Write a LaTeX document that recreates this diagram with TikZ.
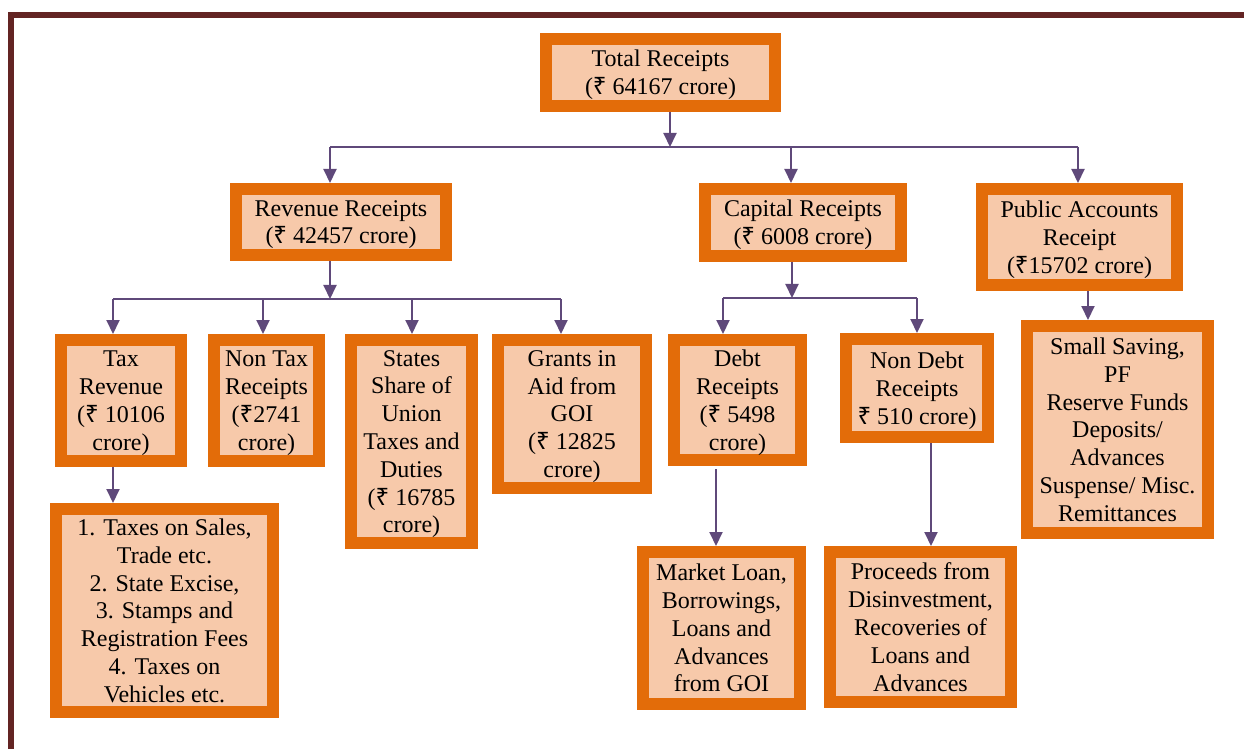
\documentclass[tikz,border=0pt]{standalone}
\usepackage{fontspec}
\setmainfont{Liberation Serif}
\newfontfamily\rupeefont{Noto Sans}
\newcommand{\Rs}{{\rupeefont ₹}}
\usetikzlibrary{arrows.meta}
\definecolor{boxorange}{HTML}{E36C09}
\definecolor{boxfill}{HTML}{F7C9AA}
\definecolor{arrowpurple}{HTML}{5F497A}
\definecolor{framered}{HTML}{632423}
\begin{document}
\begin{tikzpicture}[x=0.5pt,y=-0.5pt,
 box/.style={draw=boxorange, fill=boxfill, line width=6pt, outer sep=3pt, inner sep=0pt, align=center, font=\fontsize{12}{13.9}\selectfont, text depth=-6pt},
 conn/.style={draw=arrowpurple, line width=1pt},
 arr/.style={conn, -{Triangle[length=7pt,width=6.5pt]}},
 frame/.style={fill=framered}
]
\useasboundingbox (0,0) rectangle (1244,749);
\fill[frame] (8,12) rectangle (1244,18);
\fill[frame] (8,12) rectangle (14,749);

% nodes
\node[box, minimum width=114.5pt, minimum height=33.5pt] (tot) at (660.5,72.5) {Total Receipts\\(\Rs{} 64167 crore)};
\node[box, minimum width=105pt, minimum height=33pt] (rev) at (341,222) {Revenue Receipts\\(\Rs{} 42457 crore)};
\node[box, minimum width=98pt, minimum height=33.5pt] (cap) at (803,222.5) {Capital Receipts\\(\Rs{} 6008 crore)};
\node[box, minimum width=97.5pt, minimum height=48pt] (pub) at (1079.5,237) {Public Accounts\\Receipt\\(\Rs15702 crore)};
\node[box, minimum width=60pt, minimum height=60.5pt] (tax) at (121,400.5) {Tax\\Revenue\\(\Rs{} 10106\\crore)};
\node[box, minimum width=52.5pt, minimum height=60.5pt] (ntax) at (266.5,400.5) {Non Tax\\Receipts\\(\Rs2741\\crore)};
\node[box, minimum width=60.5pt, minimum height=101.5pt] (states) at (411.5,441.5) {States\\Share of\\Union\\Taxes and\\Duties\\(\Rs{} 16785\\crore)};
\node[box, minimum width=74pt, minimum height=74pt] (grants) at (572,414) {Grants in\\Aid from\\GOI\\(\Rs{} 12825\\crore)};
\node[box, minimum width=63.5pt, minimum height=60pt] (debt) at (737.5,400) {Debt\\Receipts\\(\Rs{} 5498\\crore)};
\node[box, minimum width=71pt, minimum height=49pt] (ndebt) at (917,388) {Non Debt\\Receipts\\\Rs{} 510 crore)};
\node[box, minimum width=90.5pt, minimum height=103.5pt] (small) at (1117.5,429.5) {Small Saving,\\PF\\Reserve Funds\\Deposits/\\Advances\\Suspense/ Misc.\\Remittances};
\node[box, minimum width=108.5pt, minimum height=101.5pt] (taxlist) at (164.5,610.5) {1. Taxes on Sales,\\Trade etc.\\2. State Excise,\\3. Stamps and\\Registration Fees\\4. Taxes on\\Vehicles etc.};
\node[box, minimum width=78.5pt, minimum height=76pt] (market) at (721.5,628) {Market Loan,\\Borrowings,\\Loans and\\Advances\\from GOI};
\node[box, minimum width=90.5pt, minimum height=75pt] (proc) at (920.5,627) {Proceeds from\\Disinvestment,\\Recoveries of\\Loans and\\Advances};

% level 1
\coordinate (j1) at (670,147);
\coordinate (h1l) at (330,147);
\coordinate (h1c) at (791,147);
\coordinate (h1r) at (1078,147);
\draw[arr] (tot.south -| j1) -- (j1);
\draw[conn] (h1l) -- (h1r);
\draw[arr] (h1l) -- (h1l |- rev.north);
\draw[arr] (h1c) -- (h1c |- cap.north);
\draw[arr] (h1r) -- (h1r |- pub.north);

% revenue branch
\coordinate (j2) at (330,299);
\coordinate (h2a) at (113,299);
\coordinate (h2b) at (263,299);
\coordinate (h2c) at (412,299);
\coordinate (h2d) at (561,299);
\draw[arr] (rev.south -| j2) -- (j2);
\draw[conn] (h2a) -- (h2d);
\draw[arr] (h2a) -- (h2a |- tax.north);
\draw[arr] (h2b) -- (h2b |- ntax.north);
\draw[arr] (h2c) -- (h2c |- states.north);
\draw[arr] (h2d) -- (h2d |- grants.north);

% capital branch
\coordinate (j3) at (792,298);
\coordinate (h3a) at (723,298);
\coordinate (h3b) at (917,298);
\draw[arr] (cap.south -| j3) -- (j3);
\draw[conn] (h3a) -- (h3b);
\draw[arr] (h3a) -- (h3a |- debt.north);
\draw[arr] (h3b) -- (h3b |- ndebt.north);

% lower arrows
\coordinate (p1) at (1088,0);
\coordinate (t1) at (113,0);
\coordinate (d1) at (716,0);
\coordinate (n1) at (931,0);
\draw[arr] (pub.south -| p1) -- (small.north -| p1);
\draw[arr] (tax.south -| t1) -- (taxlist.north -| t1);
\draw[arr, shorten <=1.5pt] (debt.south -| d1) -- (market.north -| d1);
\draw[arr] (ndebt.south -| n1) -- (proc.north -| n1);
\end{tikzpicture}
\end{document}
